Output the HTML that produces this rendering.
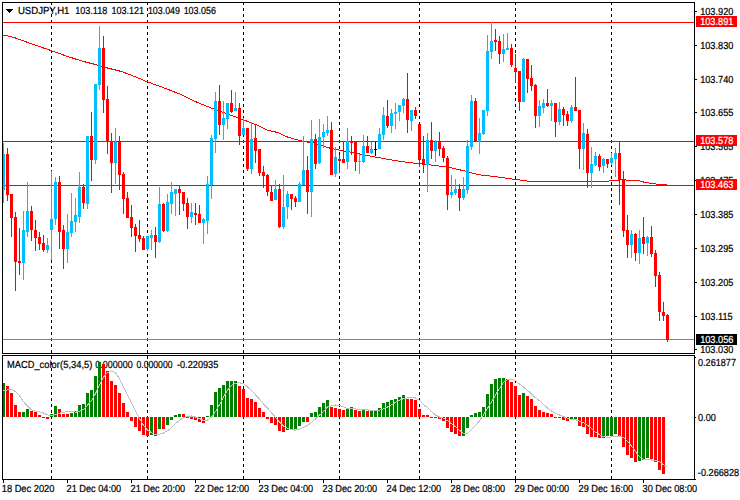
<!DOCTYPE html>
<html><head><meta charset="utf-8"><title>USDJPY H1</title>
<style>html,body{margin:0;padding:0;background:#fff;}body{width:740px;height:500px;overflow:hidden;font-family:"Liberation Sans",sans-serif;}svg{display:block}</style>
</head><body>
<svg width="740" height="500" viewBox="0 0 740 500" font-family="Liberation Sans, sans-serif">
<rect width="740" height="500" fill="#fff"/>
<g shape-rendering="crispEdges">
<line x1="51.5" y1="3" x2="51.5" y2="353" stroke="#000" stroke-dasharray="3 3" stroke-dashoffset="1"/>
<line x1="51.5" y1="356" x2="51.5" y2="479" stroke="#000" stroke-dasharray="3 3" stroke-dashoffset="0"/>
<line x1="147.5" y1="3" x2="147.5" y2="353" stroke="#000" stroke-dasharray="3 3" stroke-dashoffset="1"/>
<line x1="147.5" y1="356" x2="147.5" y2="479" stroke="#000" stroke-dasharray="3 3" stroke-dashoffset="0"/>
<line x1="243.5" y1="3" x2="243.5" y2="353" stroke="#000" stroke-dasharray="3 3" stroke-dashoffset="1"/>
<line x1="243.5" y1="356" x2="243.5" y2="479" stroke="#000" stroke-dasharray="3 3" stroke-dashoffset="0"/>
<line x1="339.5" y1="3" x2="339.5" y2="353" stroke="#000" stroke-dasharray="3 3" stroke-dashoffset="1"/>
<line x1="339.5" y1="356" x2="339.5" y2="479" stroke="#000" stroke-dasharray="3 3" stroke-dashoffset="0"/>
<line x1="419.5" y1="3" x2="419.5" y2="353" stroke="#000" stroke-dasharray="3 3" stroke-dashoffset="1"/>
<line x1="419.5" y1="356" x2="419.5" y2="479" stroke="#000" stroke-dasharray="3 3" stroke-dashoffset="0"/>
<line x1="515.5" y1="3" x2="515.5" y2="353" stroke="#000" stroke-dasharray="3 3" stroke-dashoffset="1"/>
<line x1="515.5" y1="356" x2="515.5" y2="479" stroke="#000" stroke-dasharray="3 3" stroke-dashoffset="0"/>
<line x1="611.5" y1="3" x2="611.5" y2="353" stroke="#000" stroke-dasharray="3 3" stroke-dashoffset="1"/>
<line x1="611.5" y1="356" x2="611.5" y2="479" stroke="#000" stroke-dasharray="3 3" stroke-dashoffset="0"/>
<rect x="3" y="22" width="691" height="1" fill="#ff0000"/>
<rect x="3" y="141" width="691" height="1" fill="#ff0000"/>
<rect x="3" y="185" width="691" height="1" fill="#ff0000"/>
<rect x="3" y="339" width="691" height="1" fill="#778899"/>
</g>
<text transform="translate(17.90,14) scale(0.941,1)" font-size="10.2" fill="#000" stroke="#000" stroke-width="0.22" text-rendering="geometricPrecision">USDJPY,H1</text>
<text transform="translate(75.24,14) scale(0.887,1)" font-size="10.2" fill="#000" stroke="#000" stroke-width="0.22" text-rendering="geometricPrecision">103.118</text>
<text transform="translate(111.54,14) scale(0.885,1)" font-size="10.2" fill="#000" stroke="#000" stroke-width="0.22" text-rendering="geometricPrecision">103.121</text>
<text transform="translate(147.95,14) scale(0.868,1)" font-size="10.2" fill="#000" stroke="#000" stroke-width="0.22" text-rendering="geometricPrecision">103.049</text>
<text transform="translate(183.65,14) scale(0.877,1)" font-size="10.2" fill="#000" stroke="#000" stroke-width="0.22" text-rendering="geometricPrecision">103.056</text>
<text transform="translate(7.12,368) scale(0.911,1)" font-size="10.2" fill="#000" stroke="#000" stroke-width="0.22" text-rendering="geometricPrecision">MACD_color</text>
<text transform="translate(60.12,368) scale(0.918,1)" font-size="10.2" fill="#000" stroke="#000" stroke-width="0.22" text-rendering="geometricPrecision">(5,34,5)</text>
<text transform="translate(95.33,368) scale(0.877,1)" font-size="10.2" fill="#000" stroke="#000" stroke-width="0.22" text-rendering="geometricPrecision">0.000000</text>
<text transform="translate(136.44,368) scale(0.850,1)" font-size="10.2" fill="#000" stroke="#000" stroke-width="0.22" text-rendering="geometricPrecision">0.000000</text>
<text transform="translate(176.92,368) scale(0.903,1)" font-size="10.2" fill="#000" stroke="#000" stroke-width="0.22" text-rendering="geometricPrecision">-0.220935</text>
<g shape-rendering="crispEdges">
<polyline fill="none" stroke="#ff0000" stroke-width="1" points="3.5,35.0 7.5,35.9 11.5,36.9 15.5,38.0 19.5,39.4 23.5,40.9 27.5,42.4 31.5,43.8 35.5,45.2 39.5,46.6 43.5,48.0 47.5,49.3 51.5,50.7 55.5,52.1 59.5,53.5 63.5,55.0 67.5,56.4 71.5,57.7 75.5,59.0 79.5,60.3 83.5,61.5 87.5,62.5 91.5,63.5 95.5,64.5 99.5,65.7 103.5,66.9 107.5,68.0 111.5,69.0 115.5,70.0 119.5,71.0 123.5,72.3 127.5,73.7 131.5,75.2 135.5,76.9 139.5,78.5 143.5,80.2 147.5,81.9 151.5,83.3 155.5,84.8 159.5,86.2 163.5,87.7 167.5,89.2 171.5,90.8 175.5,92.4 179.5,93.9 183.5,95.9 187.5,97.9 191.5,99.9 195.5,101.6 199.5,103.2 203.5,104.9 207.5,106.5 211.5,108.2 215.5,109.7 219.5,111.1 223.5,112.6 227.5,114.0 231.5,115.5 235.5,116.9 239.5,118.4 243.5,119.9 247.5,121.4 251.5,122.9 255.5,124.5 259.5,126.1 263.5,128.2 267.5,130.3 271.5,131.2 275.5,132.0 279.5,133.3 283.5,135.3 287.5,137.0 291.5,138.2 295.5,139.3 299.5,140.3 303.5,141.3 307.5,142.1 311.5,142.6 315.5,143.4 319.5,144.7 323.5,146.1 327.5,147.5 331.5,148.5 335.5,149.4 339.5,150.1 343.5,150.9 347.5,151.6 351.5,152.3 355.5,153.1 359.5,154.0 363.5,154.8 367.5,155.6 371.5,156.3 375.5,157.1 379.5,157.8 383.5,158.5 387.5,159.2 391.5,159.9 395.5,160.6 399.5,161.3 403.5,161.9 407.5,162.3 411.5,162.8 415.5,163.3 419.5,163.7 423.5,164.2 427.5,164.7 431.5,165.1 435.5,165.6 439.5,166.1 443.5,166.5 447.5,167.0 451.5,167.9 455.5,168.9 459.5,169.8 463.5,170.7 467.5,171.7 471.5,172.8 475.5,173.9 479.5,174.8 483.5,175.3 487.5,175.8 491.5,176.2 495.5,176.7 499.5,177.3 503.5,177.8 507.5,178.3 511.5,178.9 515.5,179.4 519.5,179.9 523.5,180.5 527.5,181.1 531.5,181.2 535.5,181.2 539.5,181.2 543.5,181.2 547.5,181.2 551.5,181.3 555.5,181.3 559.5,181.3 563.5,181.3 567.5,181.3 571.5,181.3 575.5,181.3 579.5,181.3 583.5,181.3 587.5,181.3 591.5,181.4 595.5,181.4 599.5,181.4 603.5,181.4 607.5,181.4 611.5,180.5 615.5,180.4 619.5,180.1 623.5,179.4 627.5,180.4 631.5,180.4 635.5,180.4 639.5,180.8 643.5,182.0 647.5,182.7 651.5,183.4 655.5,184.0 659.5,184.4 663.5,184.5 667.5,184.6"/>
<path fill="#00bfff" d="M3 143h1v60h-1zM2 154h3v36h-3zM23 211h1v69h-1zM22 230h3v33h-3zM27 182h1v55h-1zM26 211h3v21h-3zM47 238h1v15h-1zM46 245h3v5h-3zM51 171h1v89h-1zM50 219h3v11h-3zM55 177h1v48h-1zM54 182h3v37h-3zM67 214h1v49h-1zM66 232h3v17h-3zM71 193h1v44h-1zM70 221h3v12h-3zM75 198h1v34h-1zM74 215h3v7h-3zM79 172h1v51h-1zM78 187h3v30h-3zM87 136h1v73h-1zM86 136h3v68h-3zM95 84h1v80h-1zM94 84h3v76h-3zM99 26h1v64h-1zM98 48h3v37h-3zM115 128h1v56h-1zM114 142h3v21h-3zM147 236h1v15h-1zM146 236h3v13h-3zM151 230h1v20h-1zM150 235h3v3h-3zM159 187h1v56h-1zM158 204h3v38h-3zM167 194h1v38h-1zM166 202h3v29h-3zM171 182h1v32h-1zM170 192h3v12h-3zM175 189h1v27h-1zM174 189h3v5h-3zM191 203h1v20h-1zM190 212h3v5h-3zM203 218h1v26h-1zM202 219h3v4h-3zM207 176h1v58h-1zM206 184h3v37h-3zM211 135h1v64h-1zM210 138h3v47h-3zM215 92h1v61h-1zM214 101h3v38h-3zM223 101h1v39h-1zM222 118h3v7h-3zM227 103h1v26h-1zM226 103h3v16h-3zM235 92h1v19h-1zM234 108h3v3h-3zM243 118h1v17h-1zM242 128h3v7h-3zM251 122h1v52h-1zM250 139h3v30h-3zM275 180h1v20h-1zM274 189h3v11h-3zM283 175h1v54h-1zM282 207h3v20h-3zM287 191h1v28h-1zM286 194h3v13h-3zM299 182h1v20h-1zM298 184h3v18h-3zM303 136h1v49h-1zM302 170h3v15h-3zM311 120h1v97h-1zM310 139h3v53h-3zM319 119h1v45h-1zM318 137h3v26h-3zM323 124h1v24h-1zM322 132h3v5h-3zM327 116h1v20h-1zM326 130h3v3h-3zM335 147h1v30h-1zM334 157h3v17h-3zM347 128h1v41h-1zM346 141h3v21h-3zM359 154h1v20h-1zM358 161h3v1h-3zM363 135h1v28h-1zM362 146h3v16h-3zM371 142h1v12h-1zM370 149h3v4h-3zM379 128h1v21h-1zM378 134h3v15h-3zM383 107h1v33h-1zM382 115h3v20h-3zM391 109h1v24h-1zM390 113h3v13h-3zM395 103h1v26h-1zM394 112h3v2h-3zM399 105h1v16h-1zM398 105h3v7h-3zM403 98h1v15h-1zM402 99h3v7h-3zM411 110h1v21h-1zM410 110h3v11h-3zM427 133h1v59h-1zM426 140h3v25h-3zM435 140h1v22h-1zM434 142h3v9h-3zM451 175h1v23h-1zM450 192h3v3h-3zM455 179h1v16h-1zM454 189h3v4h-3zM463 177h1v23h-1zM462 189h3v9h-3zM467 140h1v54h-1zM466 146h3v44h-3zM471 95h1v55h-1zM470 101h3v46h-3zM479 118h1v36h-1zM478 133h3v9h-3zM483 110h1v25h-1zM482 110h3v24h-3zM487 35h1v81h-1zM486 51h3v60h-3zM491 22h1v37h-1zM490 41h3v11h-3zM503 34h1v28h-1zM502 49h3v5h-3zM507 33h1v17h-1zM506 48h3v2h-3zM523 58h1v44h-1zM522 59h3v43h-3zM539 100h1v27h-1zM538 106h3v10h-3zM543 99h1v14h-1zM542 103h3v5h-3zM551 100h1v21h-1zM550 103h3v3h-3zM559 102h1v23h-1zM558 109h3v13h-3zM571 105h1v18h-1zM570 107h3v14h-3zM583 123h1v47h-1zM582 133h3v16h-3zM591 147h1v41h-1zM590 164h3v9h-3zM595 152h1v14h-1zM594 156h3v9h-3zM603 158h1v15h-1zM602 159h3v7h-3zM611 153h1v12h-1zM610 158h3v5h-3zM615 148h1v29h-1zM614 153h3v6h-3zM631 230h1v28h-1zM630 234h3v11h-3zM639 230h1v34h-1zM638 238h3v15h-3zM647 236h1v20h-1zM646 237h3v6h-3z"/>
<path fill="#ff0000" d="M7 148h1v53h-1zM6 154h3v41h-3zM11 194h1v43h-1zM10 194h3v24h-3zM15 212h1v79h-1zM14 217h3v45h-3zM19 228h1v47h-1zM18 261h3v2h-3zM31 206h1v35h-1zM30 211h3v19h-3zM35 220h1v31h-1zM34 230h3v8h-3zM39 232h1v18h-1zM38 237h3v7h-3zM43 235h1v17h-1zM42 243h3v7h-3zM59 176h1v73h-1zM58 182h3v50h-3zM63 225h1v44h-1zM62 230h3v19h-3zM83 184h1v25h-1zM82 187h3v16h-3zM91 112h1v69h-1zM90 136h3v24h-3zM103 36h1v77h-1zM102 48h3v52h-3zM107 86h1v68h-1zM106 99h3v42h-3zM111 133h1v60h-1zM110 141h3v22h-3zM119 136h1v54h-1zM118 141h3v34h-3zM123 172h1v42h-1zM122 174h3v25h-3zM127 192h1v26h-1zM126 198h3v20h-3zM131 205h1v32h-1zM130 217h3v11h-3zM135 224h1v28h-1zM134 227h3v9h-3zM139 220h1v22h-1zM138 235h3v4h-3zM143 236h1v14h-1zM142 238h3v12h-3zM155 227h1v31h-1zM154 235h3v7h-3zM163 203h1v29h-1zM162 204h3v27h-3zM179 185h1v30h-1zM178 189h3v4h-3zM183 192h1v19h-1zM182 192h3v12h-3zM187 198h1v31h-1zM186 203h3v14h-3zM195 203h1v22h-1zM194 213h3v2h-3zM199 205h1v18h-1zM198 214h3v9h-3zM219 85h1v50h-1zM218 101h3v24h-3zM231 90h1v23h-1zM230 103h3v9h-3zM239 103h1v42h-1zM238 108h3v28h-3zM247 128h1v43h-1zM246 128h3v41h-3zM255 125h1v38h-1zM254 138h3v13h-3zM259 149h1v27h-1zM258 149h3v24h-3zM263 166h1v22h-1zM262 172h3v4h-3zM267 174h1v22h-1zM266 175h3v17h-3zM271 185h1v16h-1zM270 192h3v9h-3zM279 184h1v44h-1zM278 189h3v38h-3zM291 194h1v16h-1zM290 194h3v5h-3zM295 196h1v11h-1zM294 198h3v4h-3zM307 156h1v58h-1zM306 170h3v22h-3zM315 134h1v35h-1zM314 139h3v25h-3zM331 122h1v53h-1zM330 130h3v45h-3zM339 155h1v18h-1zM338 159h3v2h-3zM343 141h1v22h-1zM342 159h3v4h-3zM351 136h1v19h-1zM350 141h3v2h-3zM355 141h1v30h-1zM354 141h3v21h-3zM367 136h1v17h-1zM366 146h3v7h-3zM387 100h1v28h-1zM386 116h3v10h-3zM407 73h1v60h-1zM406 99h3v21h-3zM415 107h1v12h-1zM414 110h3v6h-3zM419 124h1v43h-1zM418 124h3v36h-3zM423 136h1v37h-1zM422 159h3v6h-3zM431 122h1v37h-1zM430 140h3v11h-3zM439 132h1v24h-1zM438 141h3v8h-3zM443 146h1v16h-1zM442 148h3v10h-3zM447 156h1v54h-1zM446 158h3v37h-3zM459 184h1v27h-1zM458 189h3v9h-3zM475 98h1v44h-1zM474 101h3v41h-3zM495 29h1v22h-1zM494 40h3v2h-3zM499 36h1v28h-1zM498 41h3v13h-3zM511 44h1v23h-1zM510 48h3v17h-3zM515 54h1v29h-1zM514 68h3v4h-3zM519 71h1v40h-1zM518 71h3v31h-3zM527 59h1v34h-1zM526 59h3v20h-3zM531 65h1v26h-1zM530 78h3v8h-3zM535 84h1v44h-1zM534 85h3v31h-3zM547 89h1v18h-1zM546 103h3v3h-3zM555 103h1v34h-1zM554 103h3v19h-3zM563 107h1v19h-1zM562 109h3v6h-3zM567 111h1v15h-1zM566 114h3v7h-3zM575 77h1v34h-1zM574 107h3v4h-3zM579 110h1v59h-1zM578 110h3v39h-3zM587 129h1v59h-1zM586 134h3v39h-3zM599 154h1v17h-1zM598 156h3v11h-3zM607 159h1v9h-1zM606 159h3v5h-3zM619 141h1v64h-1zM618 153h3v27h-3zM623 171h1v66h-1zM622 179h3v52h-3zM627 215h1v43h-1zM626 230h3v15h-3zM635 233h1v28h-1zM634 234h3v19h-3zM643 217h1v37h-1zM642 237h3v7h-3zM651 226h1v31h-1zM650 237h3v17h-3zM655 250h1v37h-1zM654 253h3v23h-3zM659 272h1v49h-1zM658 275h3v37h-3zM663 302h1v19h-1zM662 312h3v4h-3zM667 314h1v28h-1zM666 315h3v25h-3z"/>
<path fill="#000" d="M375 142h1v14h-1zM374 149h3v1h-3z"/>
<path fill="#008000" d="M2 383h3v34h-3zM22 412h3v5h-3zM26 409h3v8h-3zM50 414h3v3h-3zM54 406h3v11h-3zM70 413h3v4h-3zM74 411h3v6h-3zM78 405h3v12h-3zM82 404h3v13h-3zM86 393h3v24h-3zM90 390h3v27h-3zM94 376h3v41h-3zM98 362h3v55h-3zM150 417h3v18h-3zM158 417h3v12h-3zM166 417h3v8h-3zM170 417h3v3h-3zM174 415h3v2h-3zM178 414h3v3h-3zM206 416h3v1h-3zM210 405h3v12h-3zM214 392h3v25h-3zM218 388h3v29h-3zM222 385h3v32h-3zM226 381h3v36h-3zM230 381h3v36h-3zM234 381h3v36h-3zM286 417h3v13h-3zM290 417h3v12h-3zM294 417h3v12h-3zM298 417h3v9h-3zM302 417h3v5h-3zM310 413h3v4h-3zM314 412h3v5h-3zM318 407h3v10h-3zM322 403h3v14h-3zM326 400h3v17h-3zM346 409h3v8h-3zM350 407h3v10h-3zM362 410h3v7h-3zM370 411h3v6h-3zM374 411h3v6h-3zM378 408h3v9h-3zM382 403h3v14h-3zM386 402h3v15h-3zM390 400h3v17h-3zM394 399h3v18h-3zM398 397h3v20h-3zM402 395h3v22h-3zM434 417h3v1h-3zM462 417h3v19h-3zM466 417h3v11h-3zM470 415h3v2h-3zM474 413h3v4h-3zM478 412h3v5h-3zM482 407h3v10h-3zM486 394h3v23h-3zM490 384h3v33h-3zM494 379h3v38h-3zM498 378h3v39h-3zM502 378h3v39h-3zM522 393h3v24h-3zM570 417h3v3h-3zM574 417h3v2h-3zM602 417h3v21h-3zM606 417h3v19h-3zM610 417h3v19h-3zM614 417h3v17h-3zM638 417h3v44h-3zM642 417h3v43h-3zM646 417h3v41h-3z"/>
<path fill="#ff0000" d="M6 386h3v31h-3zM10 393h3v24h-3zM14 405h3v12h-3zM18 412h3v5h-3zM30 411h3v6h-3zM34 412h3v5h-3zM38 415h3v2h-3zM42 417h3v1h-3zM46 417h3v2h-3zM58 409h3v8h-3zM62 414h3v3h-3zM66 414h3v3h-3zM102 364h3v53h-3zM106 371h3v46h-3zM110 381h3v36h-3zM114 385h3v32h-3zM118 393h3v24h-3zM122 403h3v14h-3zM126 412h3v5h-3zM130 417h3v4h-3zM134 417h3v10h-3zM138 417h3v14h-3zM142 417h3v18h-3zM146 417h3v19h-3zM154 417h3v19h-3zM162 417h3v12h-3zM182 414h3v3h-3zM186 417h3v1h-3zM190 417h3v2h-3zM194 417h3v3h-3zM198 417h3v5h-3zM202 417h3v6h-3zM238 386h3v31h-3zM242 389h3v28h-3zM246 398h3v19h-3zM250 399h3v18h-3zM254 402h3v15h-3zM258 408h3v9h-3zM262 412h3v5h-3zM266 417h3v2h-3zM270 417h3v6h-3zM274 417h3v8h-3zM278 417h3v14h-3zM282 417h3v15h-3zM306 417h3v5h-3zM330 407h3v10h-3zM334 408h3v9h-3zM338 409h3v8h-3zM342 410h3v7h-3zM354 410h3v7h-3zM358 411h3v6h-3zM366 411h3v6h-3zM406 399h3v18h-3zM410 399h3v18h-3zM414 400h3v17h-3zM418 409h3v8h-3zM422 415h3v2h-3zM426 415h3v2h-3zM430 417h3v1h-3zM438 417h3v2h-3zM442 417h3v4h-3zM446 417h3v11h-3zM450 417h3v15h-3zM454 417h3v17h-3zM458 417h3v19h-3zM506 379h3v38h-3zM510 382h3v35h-3zM514 386h3v31h-3zM518 395h3v22h-3zM526 396h3v21h-3zM530 399h3v18h-3zM534 406h3v11h-3zM538 410h3v7h-3zM542 412h3v5h-3zM546 413h3v4h-3zM550 414h3v3h-3zM554 417h3v1h-3zM558 417h3v1h-3zM562 417h3v3h-3zM566 417h3v4h-3zM578 417h3v9h-3zM582 417h3v10h-3zM586 417h3v17h-3zM590 417h3v20h-3zM594 417h3v20h-3zM598 417h3v21h-3zM618 417h3v19h-3zM622 417h3v30h-3zM626 417h3v38h-3zM630 417h3v41h-3zM634 417h3v45h-3zM650 417h3v42h-3zM654 417h3v45h-3zM658 417h3v53h-3zM662 417h3v57h-3z"/>
</g>
<polyline shape-rendering="crispEdges" fill="none" stroke="#c0c0c0" stroke-width="1" points="3.5,390.5 7.5,390.0 11.5,389.2 15.5,391.6 19.5,395.8 23.5,401.6 27.5,406.2 31.5,409.8 35.5,411.2 39.5,411.8 43.5,413.0 47.5,415.0 51.5,415.6 55.5,414.4 59.5,413.2 63.5,412.4 67.5,411.4 71.5,411.2 75.5,412.2 79.5,411.4 83.5,409.4 87.5,405.2 91.5,400.6 95.5,393.6 99.5,385.0 103.5,377.0 107.5,372.6 111.5,370.8 115.5,372.6 119.5,378.8 123.5,386.6 127.5,394.8 131.5,402.8 135.5,411.2 139.5,418.8 143.5,425.2 147.5,430.0 151.5,432.8 155.5,434.6 159.5,434.2 163.5,433.0 167.5,430.8 171.5,427.8 175.5,423.6 179.5,420.6 183.5,417.6 187.5,416.2 191.5,416.0 195.5,417.0 199.5,418.6 203.5,420.4 207.5,420.0 211.5,417.2 215.5,411.6 219.5,404.8 223.5,397.2 227.5,390.2 231.5,385.4 235.5,383.2 239.5,382.8 243.5,383.6 247.5,387.0 251.5,390.6 255.5,394.8 259.5,399.2 263.5,403.8 267.5,408.0 271.5,412.8 275.5,417.4 279.5,422.0 283.5,426.0 287.5,428.2 291.5,429.4 295.5,430.2 299.5,429.2 303.5,427.2 307.5,425.6 311.5,422.4 315.5,419.0 319.5,415.2 323.5,411.4 327.5,407.0 331.5,405.8 335.5,405.0 339.5,405.4 343.5,406.8 347.5,408.6 351.5,408.6 355.5,409.0 359.5,409.4 363.5,409.4 367.5,409.8 371.5,410.6 375.5,410.8 379.5,410.2 383.5,408.8 387.5,407.0 391.5,404.8 395.5,402.4 399.5,400.2 403.5,398.6 407.5,398.0 411.5,397.8 415.5,398.0 419.5,400.4 423.5,404.4 427.5,407.6 431.5,411.4 435.5,415.0 439.5,417.0 443.5,418.2 447.5,420.8 451.5,423.6 455.5,426.8 459.5,430.2 463.5,433.2 467.5,433.2 471.5,429.8 475.5,425.6 479.5,420.8 483.5,415.0 487.5,408.2 491.5,402.0 495.5,395.2 499.5,388.4 503.5,382.6 507.5,379.6 511.5,379.2 515.5,380.6 519.5,384.0 523.5,387.0 527.5,390.4 531.5,393.8 535.5,397.8 539.5,400.8 543.5,404.6 547.5,408.0 551.5,411.0 555.5,413.4 559.5,415.0 563.5,416.6 567.5,418.2 571.5,419.4 575.5,419.6 579.5,421.2 583.5,422.6 587.5,425.2 591.5,428.6 595.5,432.2 599.5,434.6 603.5,436.8 607.5,437.2 611.5,437.0 615.5,436.4 619.5,436.0 623.5,437.8 627.5,441.6 631.5,446.0 635.5,451.6 639.5,456.6 643.5,459.2 647.5,459.8 651.5,460.0 655.5,460.0 659.5,461.8 663.5,464.6 667.5,467.1"/>
<g shape-rendering="crispEdges">
<rect x="2.5" y="2.5" width="692" height="351" fill="none" stroke="#000"/>
<rect x="2.5" y="355.5" width="692" height="124" fill="none" stroke="#000"/>
<rect x="695" y="11" width="2" height="1" fill="#000"/>
<rect x="695" y="45" width="2" height="1" fill="#000"/>
<rect x="695" y="79" width="2" height="1" fill="#000"/>
<rect x="695" y="112" width="2" height="1" fill="#000"/>
<rect x="695" y="146" width="2" height="1" fill="#000"/>
<rect x="695" y="180" width="2" height="1" fill="#000"/>
<rect x="695" y="214" width="2" height="1" fill="#000"/>
<rect x="695" y="248" width="2" height="1" fill="#000"/>
<rect x="695" y="282" width="2" height="1" fill="#000"/>
<rect x="695" y="316" width="2" height="1" fill="#000"/>
<rect x="695" y="349" width="2" height="1" fill="#000"/>
<rect x="695" y="357" width="1" height="1" fill="#000"/>
<rect x="695" y="417" width="1" height="1" fill="#000"/>
<rect x="695" y="479" width="1" height="1" fill="#000"/>
<rect x="3" y="480" width="1" height="3" fill="#000"/>
<rect x="67" y="480" width="1" height="3" fill="#000"/>
<rect x="131" y="480" width="1" height="3" fill="#000"/>
<rect x="195" y="480" width="1" height="3" fill="#000"/>
<rect x="259" y="480" width="1" height="3" fill="#000"/>
<rect x="323" y="480" width="1" height="3" fill="#000"/>
<rect x="387" y="480" width="1" height="3" fill="#000"/>
<rect x="451" y="480" width="1" height="3" fill="#000"/>
<rect x="515" y="480" width="1" height="3" fill="#000"/>
<rect x="579" y="480" width="1" height="3" fill="#000"/>
<rect x="643" y="480" width="1" height="3" fill="#000"/>
<path d="M6 9h7v1h-1v1h-1v1h-1v1h-1v-1h-1v-1h-1v-1h-1z" fill="#000"/>
</g>
<text transform="translate(700.13,15) scale(0.902,1)" font-size="10.2" fill="#000" stroke="#000" stroke-width="0.22" text-rendering="geometricPrecision">103.920</text>
<text transform="translate(700.13,49) scale(0.902,1)" font-size="10.2" fill="#000" stroke="#000" stroke-width="0.22" text-rendering="geometricPrecision">103.830</text>
<text transform="translate(700.13,83) scale(0.902,1)" font-size="10.2" fill="#000" stroke="#000" stroke-width="0.22" text-rendering="geometricPrecision">103.740</text>
<text transform="translate(700.13,116) scale(0.902,1)" font-size="10.2" fill="#000" stroke="#000" stroke-width="0.22" text-rendering="geometricPrecision">103.655</text>
<text transform="translate(700.13,150) scale(0.902,1)" font-size="10.2" fill="#000" stroke="#000" stroke-width="0.22" text-rendering="geometricPrecision">103.565</text>
<text transform="translate(700.13,184) scale(0.902,1)" font-size="10.2" fill="#000" stroke="#000" stroke-width="0.22" text-rendering="geometricPrecision">103.475</text>
<text transform="translate(700.13,218) scale(0.902,1)" font-size="10.2" fill="#000" stroke="#000" stroke-width="0.22" text-rendering="geometricPrecision">103.385</text>
<text transform="translate(700.13,252) scale(0.902,1)" font-size="10.2" fill="#000" stroke="#000" stroke-width="0.22" text-rendering="geometricPrecision">103.295</text>
<text transform="translate(700.13,286) scale(0.902,1)" font-size="10.2" fill="#000" stroke="#000" stroke-width="0.22" text-rendering="geometricPrecision">103.205</text>
<text transform="translate(700.13,320) scale(0.902,1)" font-size="10.2" fill="#000" stroke="#000" stroke-width="0.22" text-rendering="geometricPrecision">103.115</text>
<text transform="translate(700.13,353) scale(0.902,1)" font-size="10.2" fill="#000" stroke="#000" stroke-width="0.22" text-rendering="geometricPrecision">103.030</text>
<g shape-rendering="crispEdges">
<rect x="696" y="16" width="41" height="11" fill="#ff0000"/>
<rect x="696" y="135" width="41" height="11" fill="#ff0000"/>
<rect x="696" y="179" width="41" height="11" fill="#ff0000"/>
<rect x="696" y="334" width="41" height="11" fill="#000"/>
</g>
<text transform="translate(700.13,25) scale(0.902,1)" font-size="10.2" fill="#fff" stroke="#fff" stroke-width="0.22" text-rendering="geometricPrecision">103.891</text>
<text transform="translate(700.13,144) scale(0.902,1)" font-size="10.2" fill="#fff" stroke="#fff" stroke-width="0.22" text-rendering="geometricPrecision">103.578</text>
<text transform="translate(700.13,188) scale(0.902,1)" font-size="10.2" fill="#fff" stroke="#fff" stroke-width="0.22" text-rendering="geometricPrecision">103.463</text>
<text transform="translate(700.13,343) scale(0.902,1)" font-size="10.2" fill="#fff" stroke="#fff" stroke-width="0.22" text-rendering="geometricPrecision">103.056</text>
<text transform="translate(698.02,366) scale(0.893,1)" font-size="10.2" fill="#000" stroke="#000" stroke-width="0.22" text-rendering="geometricPrecision">0.261877</text>
<text transform="translate(698.02,421) scale(0.900,1)" font-size="10.2" fill="#000" stroke="#000" stroke-width="0.22" text-rendering="geometricPrecision">0.00</text>
<text transform="translate(697.82,476) scale(0.901,1)" font-size="10.2" fill="#000" stroke="#000" stroke-width="0.22" text-rendering="geometricPrecision">-0.266828</text>
<text transform="translate(1.72,492) scale(0.913,1)" font-size="10.2" fill="#000" stroke="#000" stroke-width="0.22" text-rendering="geometricPrecision">18 Dec 2020</text>
<text transform="translate(66.61,492) scale(0.901,1)" font-size="10.2" fill="#000" stroke="#000" stroke-width="0.22" text-rendering="geometricPrecision">21 Dec 04:00</text>
<text transform="translate(130.61,492) scale(0.901,1)" font-size="10.2" fill="#000" stroke="#000" stroke-width="0.22" text-rendering="geometricPrecision">21 Dec 20:00</text>
<text transform="translate(194.61,492) scale(0.901,1)" font-size="10.2" fill="#000" stroke="#000" stroke-width="0.22" text-rendering="geometricPrecision">22 Dec 12:00</text>
<text transform="translate(258.61,492) scale(0.901,1)" font-size="10.2" fill="#000" stroke="#000" stroke-width="0.22" text-rendering="geometricPrecision">23 Dec 04:00</text>
<text transform="translate(322.61,492) scale(0.901,1)" font-size="10.2" fill="#000" stroke="#000" stroke-width="0.22" text-rendering="geometricPrecision">23 Dec 20:00</text>
<text transform="translate(386.61,492) scale(0.901,1)" font-size="10.2" fill="#000" stroke="#000" stroke-width="0.22" text-rendering="geometricPrecision">24 Dec 12:00</text>
<text transform="translate(450.61,492) scale(0.901,1)" font-size="10.2" fill="#000" stroke="#000" stroke-width="0.22" text-rendering="geometricPrecision">28 Dec 08:00</text>
<text transform="translate(514.61,492) scale(0.901,1)" font-size="10.2" fill="#000" stroke="#000" stroke-width="0.22" text-rendering="geometricPrecision">29 Dec 00:00</text>
<text transform="translate(578.61,492) scale(0.901,1)" font-size="10.2" fill="#000" stroke="#000" stroke-width="0.22" text-rendering="geometricPrecision">29 Dec 16:00</text>
<text transform="translate(642.61,492) scale(0.901,1)" font-size="10.2" fill="#000" stroke="#000" stroke-width="0.22" text-rendering="geometricPrecision">30 Dec 08:00</text>
</svg>
</body></html>
